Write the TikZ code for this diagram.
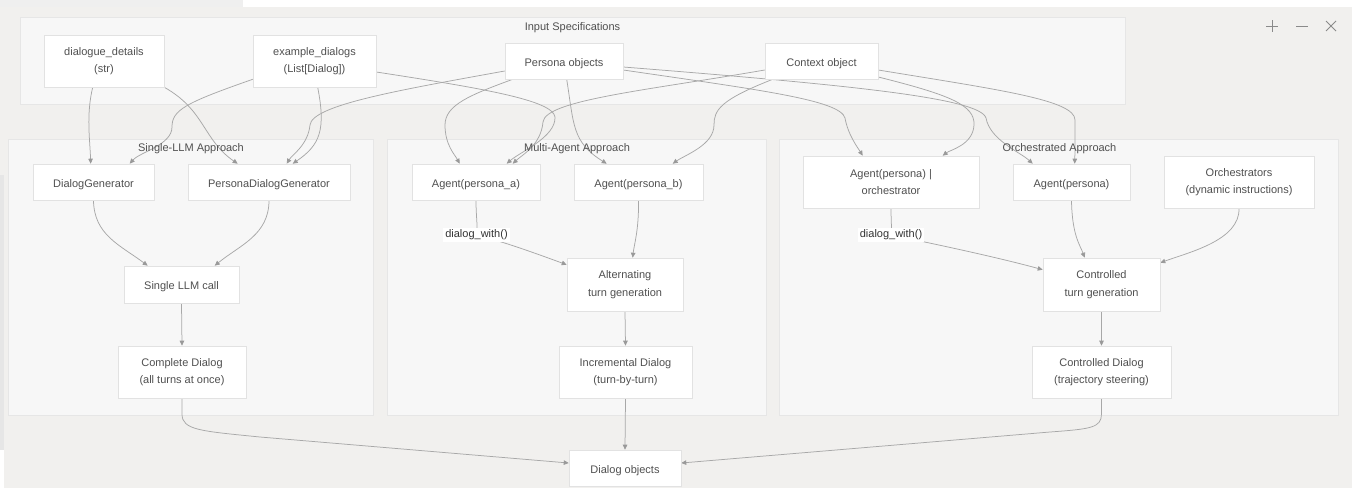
\documentclass[tikz,border=0pt]{standalone}
\usepackage{fontspec}
\setmainfont{Liberation Sans}
\usetikzlibrary{arrows.meta,calc}
\pgfdeclarelayer{bg}
\pgfdeclarelayer{edges}
\pgfsetlayers{bg,edges,main}
\definecolor{bgc}{HTML}{F1F0EE}
\definecolor{topl}{HTML}{EFEFEF}
\definecolor{band}{HTML}{E6E6E6}
\definecolor{clf}{HTML}{F7F7F7}
\definecolor{clb}{HTML}{E6E6E6}
\definecolor{nodeb}{HTML}{E2E2E2}
\definecolor{txt}{HTML}{505050}
\definecolor{edc}{HTML}{A8A8A8}
\definecolor{arrc}{HTML}{999999}
\definecolor{lbltxt}{HTML}{333333}
\definecolor{icon}{HTML}{8A8A8A}
\tikzset{
  box/.style={draw=nodeb, fill=white, line width=0.6pt, text=txt,
    font=\fontsize{11}{17.5}\selectfont, align=center, inner sep=0pt,
    execute at begin node={\rule{0pt}{12.5pt}}},
  cluster/.style={draw=clb, fill=clf, line width=0.6pt, inner sep=0pt},
  ctitle/.style={text=txt, font=\fontsize{11}{13}\selectfont, inner sep=0pt},
  elabel/.style={fill=white, text=lbltxt, font=\fontsize{11}{13}\selectfont, inner sep=2pt},
  edge/.style={draw=edc, line width=0.75pt, -{Triangle[length=5pt,width=4.5pt,color=arrc]}},
  iconline/.style={draw=icon, line width=0.9pt}
}
\begin{document}
\begin{tikzpicture}[x=1pt,y=-1pt]
\useasboundingbox (0,0) rectangle (1352,488);
\begin{pgfonlayer}{bg}
\fill[bgc] (0,0) rectangle (1352,488);
\fill[white] (243,0) rectangle (1352,7);
\fill[topl] (0,0) rectangle (243,7);
\fill[band] (0,175) rectangle (4,450);
\fill[white] (0,450) rectangle (4,488);
% clusters
\node[cluster, minimum width=1105pt, minimum height=87pt] (inspec) at (572.5,60.5) {};
\node[cluster, minimum width=365pt, minimum height=276pt] (single) at (190.5,277) {};
\node[cluster, minimum width=379pt, minimum height=276pt] (multi) at (576.5,277) {};
\node[cluster, minimum width=559pt, minimum height=276pt] (orch) at (1058.5,277) {};
\end{pgfonlayer}
% cluster titles
\node[ctitle] (t-in) at (572.5,27.5) {Input Specifications};
\node[ctitle] (t-single) at (191,148.5) {Single-LLM Approach};
\node[ctitle] (t-multi) at (577,148.5) {Multi-Agent Approach};
\node[ctitle] (t-orch) at (1059.5,148.5) {Orchestrated Approach};
% input nodes
\node[box, minimum width=120pt, minimum height=52pt] (dd) at (104,61) {dialogue\_details\\(str)};
\node[box, minimum width=123pt, minimum height=52pt] (ed) at (314.5,61) {example\_dialogs\\(List[Dialog])};
\node[box, minimum width=118pt, minimum height=36pt] (po) at (564,61) {Persona objects};
\node[box, minimum width=113pt, minimum height=36pt] (co) at (821.5,61) {Context object};
% single
\node[box, minimum width=121pt, minimum height=36pt] (dg) at (93.5,182) {DialogGenerator};
\node[box, minimum width=162pt, minimum height=36pt] (pdg) at (269,182) {PersonaDialogGenerator};
\node[box, minimum width=115pt, minimum height=37pt] (llm) at (181.5,284.5) {Single LLM call};
\node[box, minimum width=128pt, minimum height=52pt] (cd) at (182,372) {Complete Dialog\\(all turns at once)};
% multi
\node[box, minimum width=128pt, minimum height=36pt] (maa) at (476,182) {Agent(persona\_a)};
\node[box, minimum width=129pt, minimum height=36pt] (mab) at (638.5,182) {Agent(persona\_b)};
\node[box, minimum width=116pt, minimum height=53pt] (alt) at (625,284.5) {Alternating\\turn generation};
\node[box, minimum width=133pt, minimum height=52pt] (inc) at (625.5,372) {Incremental Dialog\\(turn-by-turn)};
% orchestrated
\node[box, minimum width=176pt, minimum height=52pt] (oa1) at (891,182) {Agent(persona) |\\orchestrator};
\node[box, minimum width=117pt, minimum height=36pt] (oa2) at (1071.5,182) {Agent(persona)};
\node[box, minimum width=150pt, minimum height=52pt] (orc) at (1239,182) {Orchestrators\\(dynamic instructions)};
\node[box, minimum width=117pt, minimum height=53pt] (ctg) at (1101.5,284.5) {Controlled\\turn generation};
\node[box, minimum width=139pt, minimum height=52pt] (ctd) at (1101.5,372) {Controlled Dialog\\(trajectory steering)};
% output
\node[box, minimum width=112pt, minimum height=36pt] (dobj) at (625,468) {Dialog objects};
% edge labels
\node[elabel] (lbl1) at (476.5,235) {dialog\_with()};
\node[elabel] (lbl2) at (891,235) {dialog\_with()};
% icons
\draw[iconline] (1266,26) -- (1278,26) (1272,20) -- (1272,32);
\draw[iconline] (1296,26) -- (1308,26);
\draw[iconline] (1326,21) -- (1336,31) (1326,31) -- (1336,21);
\begin{pgfonlayer}{edges}
% inputs to single
\draw[edge] ($(dd.south west)+(49,0)$) .. controls (86,115) and (90,140) .. ($(dg.north west)+(58,0)$);
\draw[edge] (dd.south east) .. controls (205,110) and (203,140) .. ($(pdg.north west)+(50,0)$);
\draw[edge] ($(ed.south west)+(0,-8)$) .. controls (185,103) and (172,110) .. (172,127) .. controls (172,145) and (140,152) .. ($(dg.north west)+(97,0)$);
\draw[edge] ($(ed.south west)+(65,0)$) .. controls (326,130) and (320,145) .. ($(pdg.north west)+(105,0)$);
\draw[edge] ($(po.west)+(0,10)$) .. controls (400,90) and (312,105) .. (310,125) .. controls (308,145) and (292,155) .. ($(pdg.north west)+(99,0)$);
% inputs to multi
\draw[edge] ($(ed.east)+(0,11)$) .. controls (480,88) and (553,100) .. (555,117) .. controls (556,137) and (520,152) .. ($(maa.north west)+(95,0)$);
\draw[edge] ($(po.south west)+(8,0)$) .. controls (470,95) and (445,105) .. (445,125) .. controls (445,145) and (455,155) .. ($(maa.north west)+(48,0)$);
\draw[edge] ($(co.west)+(0,9)$) .. controls (650,90) and (545,100) .. (543,122) .. controls (541,145) and (522,155) .. ($(maa.north west)+(101,0)$);
\draw[edge] ($(po.south west)+(62,0)$) .. controls (574,125) and (572,142) .. ($(mab.north west)+(33,0)$);
\draw[edge] ($(co.south west)+(8,0)$) .. controls (720,100) and (714,110) .. (714,125) .. controls (714,145) and (685,155) .. ($(mab.north west)+(99,0)$);
% inputs to orchestrated
\draw[edge] ($(po.east)+(0,9)$) .. controls (760,90) and (840,100) .. (845,118) .. controls (848,135) and (858,148) .. ($(oa1.north west)+(60,0)$);
\draw[edge] ($(po.east)+(0,6)$) .. controls (850,85) and (980,98) .. (986,118) .. controls (990,140) and (1020,152) .. ($(oa2.north west)+(20,0)$);
\draw[edge] ($(co.east)+(0,16)$) .. controls (950,95) and (975,105) .. (974,125) .. controls (973,145) and (950,150) .. ($(oa1.north west)+(140,0)$);
\draw[edge] ($(co.east)+(0,9)$) .. controls (1000,90) and (1075,100) .. (1075,120) .. controls (1075,135) and (1075,150) .. ($(oa2.north west)+(62,0)$);
% single flow
\draw[edge] (dg.south) .. controls (94,235) and (120,245) .. ($(llm.north west)+(24,0)$);
\draw[edge] (pdg.south) .. controls (269,235) and (240,245) .. ($(llm.north west)+(91,0)$);
\draw[edge] (llm.south) -- (cd.north);
% multi flow
\draw[edge] (maa.south) .. controls (476,218) and (478,226) .. (lbl1.center) .. controls (505,242) and (540,255) .. ($(alt.north west)+(0,7)$);
\draw[edge] (mab.south) .. controls (639,230) and (634,245) .. ($(alt.north west)+(66,0)$);
\draw[edge] (alt.south) -- (inc.north);
\draw[edge] (inc.south) -- (dobj.north);
% orchestrated flow
\draw[edge] (oa1.south) .. controls (891,222) and (892,228) .. (lbl2.center) .. controls (940,245) and (1000,258) .. ($(ctg.north west)+(0,12)$);
\draw[edge] (oa2.south) .. controls (1072,235) and (1080,245) .. ($(ctg.north west)+(42,0)$);
\draw[edge] (orc.south) .. controls (1240,240) and (1190,252) .. ($(ctg.north east)+(0,5)$);
\draw[edge] (ctg.south) -- (ctd.north);
% to output
\draw[edge] (cd.south) -- (182,414) .. controls (182,430) and (200,431) .. (260,437) -- ($(dobj.west)+(0,-5)$);
\draw[edge] (ctd.south) -- (1101.5,414) .. controls (1101.5,428) and (1090,429) .. (1050,432) -- ($(dobj.east)+(0,-5)$);
\end{pgfonlayer}
\end{tikzpicture}
\end{document}
